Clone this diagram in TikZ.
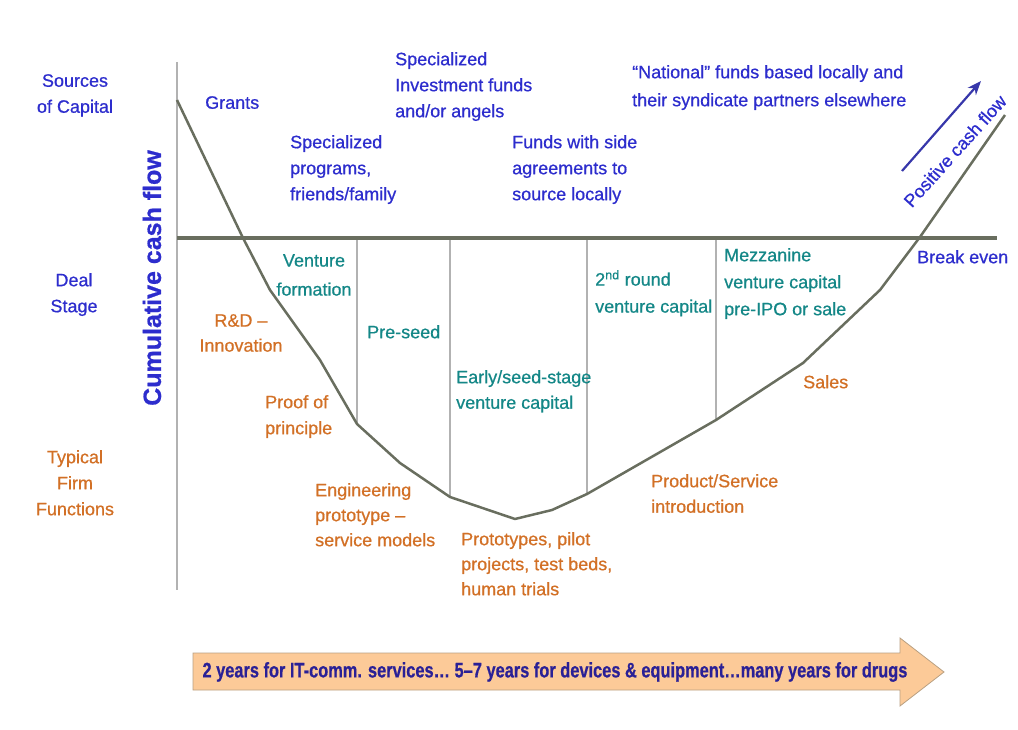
\documentclass[tikz,border=0pt]{standalone}
\usepackage{fontspec}
\usepackage{graphicx}
\setmainfont{Liberation Sans}[FakeBold=0.7]
\usetikzlibrary{arrows.meta}
\definecolor{capblue}{RGB}{45,45,205}
\definecolor{dealteal}{RGB}{20,135,135}
\definecolor{firmorange}{RGB}{210,112,38}
\definecolor{curvegray}{RGB}{105,110,95}
\definecolor{axisgray}{RGB}{178,178,178}
\definecolor{peach}{RGB}{252,202,152}
\definecolor{peachedge}{RGB}{185,160,130}
\definecolor{navytext}{RGB}{42,32,150}
\definecolor{arrowblue}{RGB}{55,55,170}
\begin{document}
\begin{tikzpicture}[x=1pt,y=-1pt,
  lbl/.style={inner sep=0pt, align=left, anchor=north west, font=\fontsize{18}{26}\selectfont},
  clbl/.style={inner sep=0pt, align=center, anchor=north, font=\fontsize{18}{26}\selectfont},
  src/.style={text=capblue},
  deal/.style={text=dealteal},
  firm/.style={text=firmorange},
  axisline/.style={draw=axisgray, line width=1.5pt},
  sepline/.style={draw=axisgray, line width=1.3pt},
  cashcurve/.style={draw=curvegray, line width=2.5pt, line join=round},
  evenline/.style={draw=curvegray, line width=4pt}]
\useasboundingbox (0,0) rectangle (1018,730);

% axes and separators
\coordinate (axtop) at (177,62);
\coordinate (axbot) at (177,590);
\draw[axisline] (axtop) -- (axbot);
\coordinate (s1t) at (357,238); \coordinate (s1b) at (357,424);
\coordinate (s2t) at (450,238); \coordinate (s2b) at (450,497);
\coordinate (s3t) at (587,238); \coordinate (s3b) at (587,494);
\coordinate (s4t) at (716,238); \coordinate (s4b) at (716,420);
\draw[sepline] (s1t) -- (s1b);
\draw[sepline] (s2t) -- (s2b);
\draw[sepline] (s3t) -- (s3b);
\draw[sepline] (s4t) -- (s4b);
\coordinate (evl) at (177,238);
\coordinate (evr) at (997,238);
\draw[evenline] (evl) -- (evr);

% cumulative cash flow curve
\draw[cashcurve] (177,100) -- (243,238) -- (270,290) -- (320,360) -- (357,424)
  -- (400,463) -- (450,497) -- (515,519) -- (552,510) -- (587,494)
  -- (716,420) -- (803,363) -- (880,290) -- (920,237) -- (1005,115);

% positive cash flow arrow
\coordinate (pcfa) at (902,171);
\coordinate (pcfb) at (981,81);
\draw[draw=arrowblue, line width=2.2pt, -{Stealth[length=14pt,width=11pt]}] (pcfa) -- (pcfb);
\node[inner sep=0pt, rotate=48, text=capblue, font=\fontsize{18}{20}\selectfont] (pcf) at (955,151) {Positive cash flow};

% left row labels
\node[clbl, src] (sources) at (75,74) {Sources\\of Capital};
\node[clbl, src] (dealstage) at (74,273) {Deal\\Stage};
\node[clbl, firm] (typical) at (75,450) {Typical\\Firm\\Functions};
\node[inner sep=0pt, rotate=90, text=capblue, font=\fontsize{25}{28}\selectfont\bfseries] (cum) at (152,278) {Cumulative cash flow};

% sources of capital
\node[lbl, src] (grants) at (205,96) {Grants};
\node[lbl, src] (specprog) at (290,135) {Specialized\\programs,\\friends/family};
\node[lbl, src] (specinv) at (395,52) {Specialized\\Investment funds\\and/or angels};
\node[lbl, src] (side) at (512,135) {Funds with side\\agreements to\\source locally};
\node[lbl, src, font=\fontsize{18}{28}\selectfont] (national) at (632,65) {“National” funds based locally and\\their syndicate partners elsewhere};
\node[lbl, src] (breakeven) at (917,250) {Break even};

% deal stages
\node[clbl, deal, font=\fontsize{18}{29}\selectfont] (ventform) at (314,254) {Venture\\formation};
\node[lbl, deal] (preseed) at (367,325) {Pre-seed};
\node[lbl, deal, font=\fontsize{18}{25.5}\selectfont] (early) at (456,370) {Early/seed-stage\\venture capital};
\node[lbl, deal, font=\fontsize{18}{27}\selectfont] (second) at (595,270) {2\textsuperscript{nd} round\\venture capital};
\node[lbl, deal, font=\fontsize{18}{27}\selectfont] (mezz) at (724,248) {Mezzanine\\venture capital\\pre-IPO or sale};

% firm functions
\node[clbl, firm, font=\fontsize{18}{25}\selectfont] (rnd) at (241,314) {R\&D –\\Innovation};
\node[lbl, firm] (proof) at (265,395) {Proof of\\principle};
\node[lbl, firm, font=\fontsize{18}{25}\selectfont] (eng) at (315,483) {Engineering\\prototype –\\service models};
\node[lbl, firm, font=\fontsize{18}{25}\selectfont] (proto) at (461,532) {Prototypes, pilot\\projects, test beds,\\human trials};
\node[lbl, firm, font=\fontsize{18}{25.5}\selectfont] (prod) at (651,474) {Product/Service\\introduction};
\node[lbl, firm] (sales) at (803,375) {Sales};

% time arrow
\draw[fill=peach, draw=peachedge, line width=0.8pt] (193,653) -- (900,653) -- (900,638) -- (944,672)
  -- (900,706) -- (900,690) -- (193,690) -- cycle;
\node[inner sep=0pt, text=navytext] (timeline) at (555,672)
  {\resizebox{705pt}{\height}{\fontsize{21}{21}\selectfont\bfseries 2 years for IT-comm. services… 5–7 years for devices \& equipment…many years for drugs}};
\end{tikzpicture}
\end{document}
